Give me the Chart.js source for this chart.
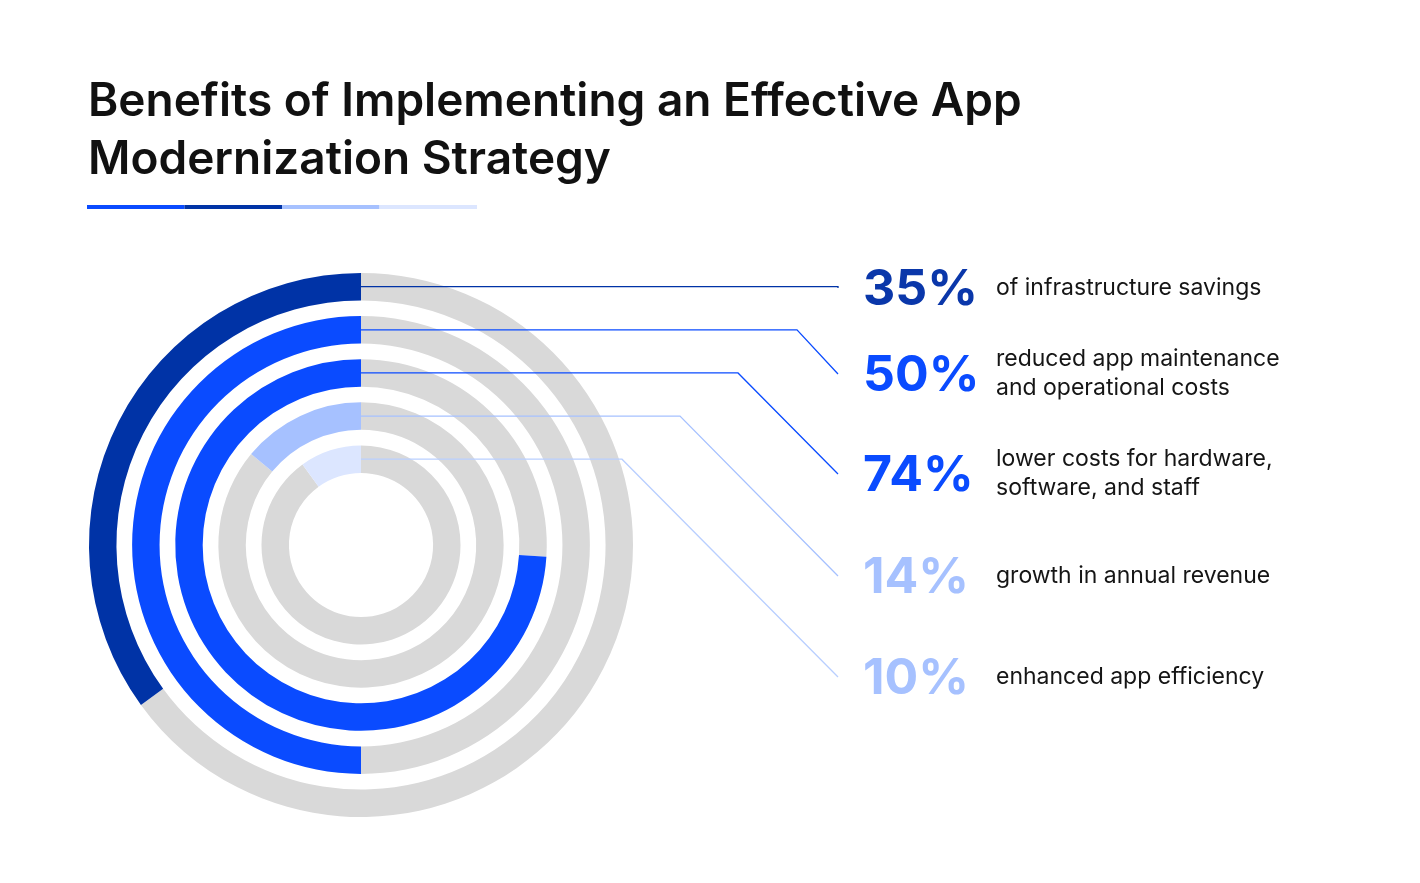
<!DOCTYPE html>
<html>
<head>
<meta charset="utf-8">
<script src="https://cdn.jsdelivr.net/npm/chart.js@4"></script>
<style>
  html, body { margin: 0; padding: 0; background: #fff; }
  #wrap { width: 1420px; height: 883px; position: relative; }
</style>
</head>
<body>
<div id="wrap"><canvas id="rings"></canvas></div>
<script>
const TITLE_LINES = ['Benefits of Implementing an Effective App', 'Modernization Strategy'];
const PERCENTS    = [35, 50, 74, 14, 10];
const PCT_LABELS  = ['35%', '50%', '74%', '14%', '10%'];
const DESCRIPTIONS = [
  ['of infrastructure savings'],
  ['reduced app maintenance', 'and operational costs'],
  ['lower costs for hardware,', 'software, and staff'],
  ['growth in annual revenue'],
  ['enhanced app efficiency'],
];
const RING_COLORS = ['#0033A6', '#0A4BFF', '#0A4BFF', '#A6C1FF', '#DCE6FF'];
const TEXT_COLORS = ['#0A37AA', '#0A4BFF', '#0A4BFF', '#A6C1FF', '#A6C1FF'];
const LINE_COLORS = ['#0033A6', '#0A4BFF', '#0A4BFF', '#A6C1FF', '#B9CFFF'];
const GREY = '#D9D9D9';

// label rows: y of the diagonal end and x where the line bends
const ROW_Y   = [288, 374, 474, 576, 677];
const KNEE_X  = [838, 797, 738, 680, 622];

// ── datasets: each ring + a transparent spacer between rings ──
const datasets = [];
PERCENTS.forEach((v, i) => {
  if (i > 0) datasets.push({ data: [100], backgroundColor: ['rgba(0,0,0,0)'], borderWidth: 0, weight: 16 });
  datasets.push({
    data: [100 - v, v],
    backgroundColor: [GREY, RING_COLORS[i]],
    borderWidth: 0,
    weight: 28,
    ringIndex: i,
  });
});

const overlay = {
  id: 'overlay',
  afterDraw(chart) {
    const ctx = chart.ctx;
    ctx.save();
    // title
    ctx.fillStyle = '#111';
    ctx.font = '600 46px Inter';
    ctx.textBaseline = 'alphabetic';
    ctx.fillText(TITLE_LINES[0], 88, 116);
    ctx.fillText(TITLE_LINES[1], 88, 174);
    // underline segments
    const segs = ['#0A4BFF', '#0033A6', '#A6C1FF', '#DCE6FF'];
    segs.forEach((c, k) => { ctx.fillStyle = c; ctx.fillRect(87 + k * 97.5, 205, 97.5, 4); });

    // connectors + labels
    chart.data.datasets.forEach((ds, di) => {
      if (ds.ringIndex === undefined) return;
      const i = ds.ringIndex;
      const arc = chart.getDatasetMeta(di).data[1];
      const y0 = arc.y - (arc.innerRadius + arc.outerRadius) / 2;
      ctx.strokeStyle = LINE_COLORS[i];
      ctx.lineWidth = 1.3;
      ctx.beginPath();
      ctx.moveTo(arc.x, y0);
      ctx.lineTo(KNEE_X[i], y0);
      ctx.lineTo(838, ROW_Y[i]);
      ctx.stroke();

      ctx.fillStyle = TEXT_COLORS[i];
      ctx.font = 'bold 50px Inter';
      ctx.textBaseline = 'middle';
      ctx.fillText(PCT_LABELS[i], 863, ROW_Y[i] + 2);

      ctx.fillStyle = '#151515';
      ctx.font = '23px Inter';
      const lines = DESCRIPTIONS[i];
      const off = (lines.length - 1) * 14.5;
      lines.forEach((t, k) => ctx.fillText(t, 996, ROW_Y[i] - off + k * 29));
    });
    ctx.restore();
  },
};

new Chart(document.getElementById('rings'), {
  type: 'doughnut',
  data: { labels: ['rest', 'value'], datasets },
  options: {
    responsive: true,
    maintainAspectRatio: false,
    animation: false,
    cutout: '26.5%',
    layout: { padding: { left: 89, right: 787, top: 273, bottom: 66 } },
    plugins: { legend: { display: false }, tooltip: { enabled: false } },
  },
  plugins: [overlay],
});
</script>
</body>
</html>
